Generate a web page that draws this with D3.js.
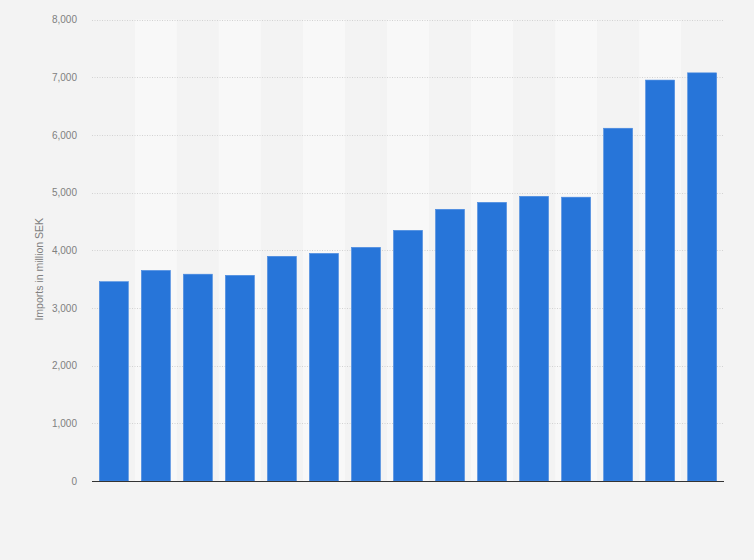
<!DOCTYPE html>
<html>
<head>
<meta charset="utf-8">
<script src="https://cdn.jsdelivr.net/npm/d3@7"></script>
<style>
  html, body { margin: 0; padding: 0; background: #f3f3f3; }
  svg { display: block; font-family: "Liberation Sans", Arial, sans-serif; }
</style>
</head>
<body>
<svg id="chart"></svg>
<script>
// bar categories (no labels shown in the picture)
const categories = ["1", "2", "3", "4", "5", "6", "7", "8", "9", "10", "11", "12", "13", "14", "15"];
const imports = [3455, 3650, 3585, 3565, 3895, 3945, 4050, 4345, 4710, 4830, 4935, 4920, 6115, 6950, 7075];
const yTicks = [0, 1000, 2000, 3000, 4000, 5000, 6000, 7000, 8000];
const yLabel = "Imports in million SEK";

const width = 754, height = 560;
const margin = { top: 19.5, right: 30, bottom: 79, left: 92 };

const svg = d3.select("#chart")
    .attr("width", width)
    .attr("height", height);

const x = d3.scaleBand()
    .domain(categories)
    .range([margin.left, width - margin.right])
    .paddingInner(0.31)
    .paddingOuter(0.175);

const y = d3.scaleLinear()
    .domain([0, 8000])
    .range([height - margin.bottom, margin.top]);

// alternating column shading
const step = x.step();
svg.append("g")
    .selectAll("rect")
    .data(categories)
    .join("rect")
    .attr("x", d => x(d) - x.paddingInner() * step / 2)
    .attr("y", y(8000))
    .attr("width", step)
    .attr("height", y(0) - y(8000))
    .attr("fill", (d, i) => i % 2 ? "#f8f8f8" : "#f3f3f3");

// grid lines
svg.append("g")
    .selectAll("line")
    .data(yTicks.filter(d => d > 0))
    .join("line")
    .attr("x1", margin.left)
    .attr("x2", width - margin.right)
    .attr("y1", d => Math.round(y(d)) + 0.5)
    .attr("y2", d => Math.round(y(d)) + 0.5)
    .attr("stroke", "#d2d2d2")
    .attr("stroke-dasharray", "1,1.5");

// y axis
const yAxis = d3.axisLeft(y)
    .tickValues(yTicks)
    .tickSize(0)
    .tickPadding(15)
    .tickFormat(d3.format(","));

svg.append("g")
    .attr("transform", `translate(${margin.left},0)`)
    .call(yAxis)
    .call(g => g.select(".domain").remove())
    .call(g => g.selectAll("text")
        .attr("fill", "#808080")
        .attr("font-size", 10)
        .style("font-family", "'Liberation Sans', Arial, sans-serif"));

// bars
svg.append("g")
    .selectAll("rect")
    .data(imports)
    .join("rect")
    .attr("x", (d, i) => x(categories[i]))
    .attr("y", d => y(d))
    .attr("width", x.bandwidth())
    .attr("height", d => y(0) - y(d))
    .attr("fill", "#2775d9")
    .attr("stroke", "#4a8ae0")
    .attr("stroke-width", 0.6);

// baseline
svg.append("line")
    .attr("x1", margin.left)
    .attr("x2", width - margin.right)
    .attr("y1", y(0) + 0.5)
    .attr("y2", y(0) + 0.5)
    .attr("stroke", "#333")
    .attr("stroke-width", 1.2);

// y label
svg.append("text")
    .attr("transform", `translate(40, ${(y(0) + y(8000)) / 2 + 19}) rotate(-90)`)
    .attr("text-anchor", "middle")
    .attr("dominant-baseline", "middle")
    .attr("fill", "#808080")
    .attr("font-size", 10.5)
    .text(yLabel);
</script>
</body>
</html>
